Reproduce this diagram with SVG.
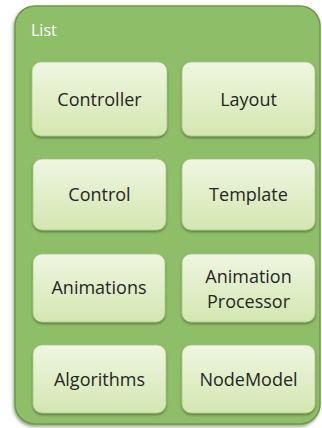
<svg xmlns="http://www.w3.org/2000/svg" width="322" height="428" viewBox="0 0 322 428">
<defs>
<linearGradient id="ng" x1="0" y1="0" x2="0" y2="1">
<stop offset="0" stop-color="#eff6e1"/>
<stop offset="1" stop-color="#d3e7b0"/>
</linearGradient>
<filter id="sh" x="-10%" y="-10%" width="120%" height="125%">
<feDropShadow dx="0" dy="1.5" stdDeviation="1.2" flood-color="#2d4a18" flood-opacity="0.6"/>
</filter>
<filter id="osh" x="-5%" y="-5%" width="110%" height="110%">
<feDropShadow dx="-1" dy="2" stdDeviation="1.5" flood-color="#2d4a18" flood-opacity="0.5"/>
</filter>
</defs>
<style>
.node rect{fill:url(#ng);stroke:#a9c98a;stroke-width:0.8;filter:url(#sh)}
.node text{font-family:"Open Sans",sans-serif;font-size:18px;fill:#262626;text-anchor:middle}
.title{font-family:"Open Sans",sans-serif;font-size:16px;fill:#ffffff}
</style>
<g id="List">
<rect x="15" y="6" width="305" height="418" rx="20" fill="#8fbe69" stroke="#6c9a48" stroke-width="1.5" filter="url(#osh)"/>
<text class="title" x="31" y="36">List</text>
</g>
<g id="connectors"/>
<g id="Controller" class="node"><rect x="32" y="62" width="135" height="74" rx="9"/><text x="99.5" y="106">Controller</text></g>
<g id="Layout" class="node"><rect x="182" y="62" width="133" height="74" rx="9"/><text x="248.5" y="106">Layout</text></g>
<g id="Control" class="node"><rect x="33" y="159" width="133" height="71" rx="9"/><text x="99.5" y="201">Control</text></g>
<g id="Template" class="node"><rect x="182" y="159" width="133" height="71" rx="9"/><text x="248.5" y="201">Template</text></g>
<g id="Animations" class="node"><rect x="33" y="254" width="132" height="68" rx="9"/><text x="99" y="294">Animations</text></g>
<g id="AnimationProcessor" class="node"><rect x="182" y="254" width="133" height="68" rx="9"/><text x="248.5" y="283">Animation</text><text x="248.5" y="308">Processor</text></g>
<g id="Algorithms" class="node"><rect x="33" y="345" width="133" height="68" rx="9"/><text x="99.5" y="386">Algorithms</text></g>
<g id="NodeModel" class="node"><rect x="182" y="345" width="133" height="68" rx="9"/><text x="248.5" y="386">NodeModel</text></g>
</svg>
